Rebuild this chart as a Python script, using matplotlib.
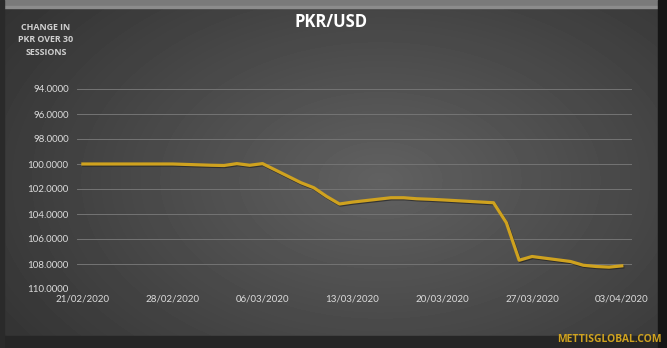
import numpy as np
import pandas as pd
import matplotlib
matplotlib.use("Agg")
import matplotlib.pyplot as plt
import matplotlib.dates as mdates
import matplotlib.patheffects as pe

# --- данные (30 сессий) ---
dates = ["2020-02-21", "2020-02-24", "2020-02-25", "2020-02-26", "2020-02-27",
         "2020-02-28", "2020-03-02", "2020-03-03", "2020-03-04", "2020-03-05",
         "2020-03-06", "2020-03-09", "2020-03-10", "2020-03-11", "2020-03-12",
         "2020-03-13", "2020-03-16", "2020-03-17", "2020-03-18", "2020-03-19",
         "2020-03-20", "2020-03-24", "2020-03-25", "2020-03-26", "2020-03-27",
         "2020-03-30", "2020-03-31", "2020-04-01", "2020-04-02", "2020-04-03"]
values = [100.00, 100.00, 100.00, 100.00, 100.00,
          100.00, 100.10, 100.12, 99.97, 100.10,
          99.97, 101.50, 101.90, 102.60, 103.20,
          103.05, 102.70, 102.70, 102.78, 102.82,
          102.87, 103.10, 104.70, 107.70, 107.40,
          107.80, 108.10, 108.20, 108.25, 108.15]
tick_dates = ["2020-02-21", "2020-02-28", "2020-03-06", "2020-03-13",
              "2020-03-20", "2020-03-27", "2020-04-03"]
y_ticks = [94, 96, 98, 100, 102, 104, 106, 108, 110]

x = pd.to_datetime(dates)
xt = pd.to_datetime(tick_dates)

FONT = ["Lato", "DejaVu Sans"]
BOLD_FONT = ["Open Sans", "DejaVu Sans"]
LABEL_C = "#dcdcdc"
GOLD = "#cfa21f"

fig = plt.figure(figsize=(6.67, 3.48), dpi=100)
fig.patch.set_facecolor("#383838")

# --- фон: радиальный градиент ---
bg = fig.add_axes([0, 0, 1, 1], zorder=0)
gy, gx = np.mgrid[0:348, 0:667]
r = np.sqrt(((gx - 380) / 430.0) ** 2 + ((gy - 180) / 270.0) ** 2)
shade = np.clip(0.38 - 0.17 * r, 0.19, 0.38)
bg.imshow(shade, cmap="gray", vmin=0, vmax=1, extent=[0, 667, 348, 0], aspect="auto")
# рамка
bg.add_patch(plt.Rectangle((0, 0), 667, 6, color="#7a7a7a"))
bg.add_patch(plt.Rectangle((0, 6), 667, 2, color="#8c8c8c"))
bg.add_patch(plt.Rectangle((0, 336), 667, 12, color="#262626"))
bg.add_patch(plt.Rectangle((658, 0), 9, 348, color="#151515"))
bg.add_patch(plt.Rectangle((0, 0), 4, 348, color="#2a2a2a"))
bg.set_xlim(0, 667)
bg.set_ylim(348, 0)
bg.axis("off")

# --- график ---
ax = fig.add_axes([77 / 667, 59 / 348, 555 / 667, 200 / 348], zorder=1)
ax.patch.set_alpha(0)
ax.plot(x, values, color=GOLD, lw=2.3, solid_joinstyle="round",
        path_effects=[pe.SimpleLineShadow(offset=(0.6, -0.8), shadow_color="#1a1a1a", alpha=0.6),
                      pe.Normal()])

ax.set_ylim(110, 94)
ax.set_yticks(y_ticks)
ax.set_yticklabels([f"{v:.4f}" for v in y_ticks])
ax.set_xlim(x[0] - pd.Timedelta(hours=11), x[-1] + pd.Timedelta(hours=19))
ax.set_xticks(xt)
ax.xaxis.set_major_formatter(mdates.DateFormatter("%d/%m/%Y"))

ax.grid(axis="y", color="#747474", lw=0.7)
ax.set_axisbelow(True)
for s in ax.spines.values():
    s.set_visible(False)
ax.tick_params(length=0, colors=LABEL_C, labelsize=7, pad=4)
ax.tick_params(axis="y", pad=6)
for lab in ax.get_xticklabels() + ax.get_yticklabels():
    lab.set_family(FONT)

# --- тексты ---
fig.text(331 / 667, 1 - 22 / 348, "PKR/USD", ha="center", va="center",
         color="white", fontsize=12, fontweight="bold", family=BOLD_FONT)
fig.text(46 / 667, 1 - 40 / 348, "CHANGE IN\nPKR OVER 30\nSESSIONS", ha="center", va="center",
         color="#d0d0d0", fontsize=6.4, fontweight="bold", family=BOLD_FONT, linespacing=1.55)
fig.text(662 / 667, 1 - 339 / 348, "METTISGLOBAL.COM", ha="right", va="center",
         color=GOLD, fontsize=7.5, fontweight="bold", family=BOLD_FONT)

fig.savefig("out.png", dpi=100, facecolor=fig.get_facecolor())
